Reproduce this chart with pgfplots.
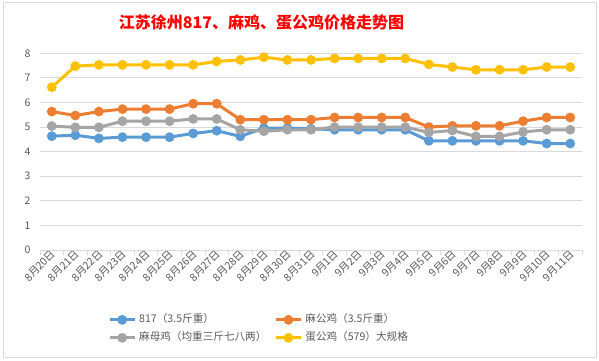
\documentclass[border=0pt]{standalone}
\usepackage{pgfplots}
\pgfplotsset{compat=1.18}
\usepackage{pgfplotstable}
\usepackage{fontspec}
\setmainfont{Noto Sans CJK SC}
\definecolor{sblue}{HTML}{5B9BD5}
\definecolor{sorange}{HTML}{ED7D31}
\definecolor{sgray}{HTML}{A5A5A5}
\definecolor{sgold}{HTML}{FFC000}
\definecolor{gridc}{HTML}{D9D9D9}
\definecolor{txt}{HTML}{595959}
\pgfplotstableread{
idx blue orange gray gold
0  4.63 5.63 5.04 6.62
1  4.67 5.47 4.99 7.48
2  4.54 5.63 4.99 7.53
3  4.59 5.73 5.24 7.53
4  4.59 5.73 5.24 7.53
5  4.59 5.73 5.24 7.53
6  4.74 5.95 5.33 7.53
7  4.85 5.95 5.33 7.67
8  4.62 5.30 4.89 7.73
9  4.96 5.30 4.83 7.84
10 4.96 5.30 4.89 7.73
11 4.93 5.30 4.89 7.73
12 4.89 5.39 5.00 7.79
13 4.89 5.39 5.00 7.79
14 4.89 5.39 5.00 7.79
15 4.89 5.39 5.00 7.79
16 4.44 5.00 4.78 7.55
17 4.44 5.05 4.86 7.44
18 4.44 5.05 4.62 7.33
19 4.44 5.05 4.62 7.33
20 4.44 5.24 4.80 7.33
21 4.33 5.39 4.89 7.44
22 4.33 5.39 4.89 7.44
}\datatable
\begin{document}
\begin{tikzpicture}
\path (0,0) rectangle (599bp,361bp);
\draw[gridc, line width=0.8bp] (3bp,3.5bp) rectangle (596bp,359bp);
\node[text=red, font=\fontsize{16bp}{19bp}\selectfont\bfseries] at (261.5bp,338.5bp) {江苏徐州817、麻鸡、蛋公鸡价格走势图};
\begin{axis}[
  at={(40bp,111bp)}, anchor=south west,
  scale only axis, width=542bp, height=196.7bp,
  xmin=-0.5, xmax=22.5, ymin=0, ymax=8,
  axis line style={draw=none},
  ytick={0,1,...,8},
  ymajorgrids, grid style={gridc, line width=0.8bp},
  major tick length=0pt,
  xtick={0,...,22},
  xticklabels={8月20日,8月21日,8月22日,8月23日,8月24日,8月25日,8月26日,8月27日,8月28日,8月29日,8月30日,8月31日,9月1日,9月2日,9月3日,9月4日,9月5日,9月6日,9月7日,9月8日,9月9日,9月10日,9月11日},
  minor xtick={-0.5,0.5,...,22.5},
  minor tick length=5bp,
  xtick align=outside,
  xtick pos=bottom, ytick pos=left,
  minor tick style={gridc, line width=0.8bp},
  /pgf/number format/assume math mode=true,
  ticklabel style={text=txt, font=\fontsize{10.5bp}{12bp}\selectfont},
  yticklabel style={xshift=-6bp},
  xticklabel style={rotate=45, anchor=east, inner sep=1bp, yshift=-3bp, xshift=1bp},
  every axis plot/.append style={line width=3bp, mark=*, mark size=3.3bp},
  legend columns=2,
  legend cell align=left,
  legend style={at={(0.1255,-0.33)}, anchor=north west, draw=none, fill=none,
    inner sep=0pt, column sep=3bp, row sep=8.5bp,
    font=\fontsize{10.6bp}{12bp}\selectfont, text=txt,
    nodes={inner sep=0pt, text height=7.5bp, text depth=2bp},
    /tikz/every even column/.append style={column sep=8bp}},
  legend image code/.code={\draw[mark repeat=2,mark phase=2] plot coordinates {(0bp,0bp)(12.5bp,0bp)(25bp,0bp)};},
  clip=false,
]
\draw[gridc, line width=0.8bp] (axis cs:-0.5,0) -- (axis cs:22.5,0);
\addplot[sblue, mark options={fill=sblue}] table[x=idx, y=blue] {\datatable};
\addlegendentry{817（3.5斤重）}
\addplot[sorange, mark options={fill=sorange}] table[x=idx, y=orange] {\datatable};
\addlegendentry{麻公鸡（3.5斤重）}
\addplot[sgray, mark options={fill=sgray}] table[x=idx, y=gray] {\datatable};
\addlegendentry{麻母鸡（均重三斤七八两）}
\addplot[sgold, mark options={fill=sgold}] table[x=idx, y=gold] {\datatable};
\addlegendentry{蛋公鸡（579）大规格}
\end{axis}
\end{tikzpicture}
\end{document}
